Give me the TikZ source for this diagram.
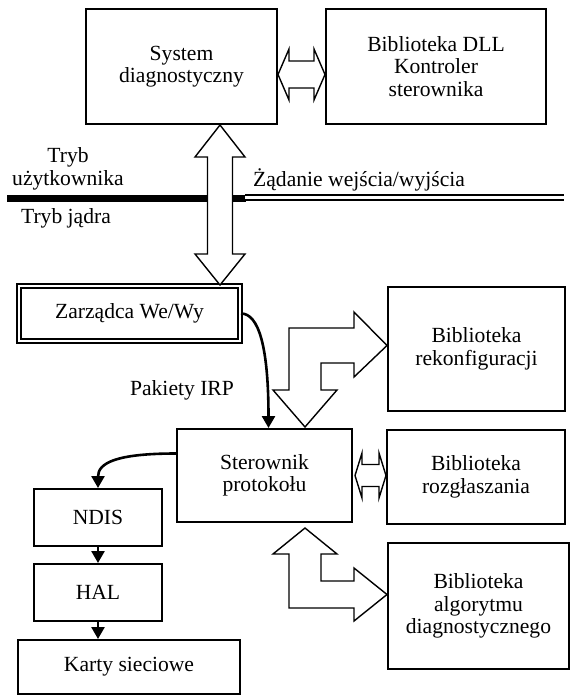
\documentclass[tikz,border=0pt]{standalone}
\usepackage{fontspec}
\setmainfont{Liberation Serif}
\usetikzlibrary{arrows.meta, positioning, calc}

\tikzset{
  box/.style={draw, line width=2pt, rectangle, align=center, inner sep=0pt, font=\fontsize{21.6}{22.5}\selectfont},
  note/.style={inner sep=0pt, align=center, font=\fontsize{21.6}{22.5}\selectfont},
  blockarrow/.style={draw, line width=1.4pt, fill=white},
  flow/.style={->, line width=2.6pt}
}

\begin{document}
\begin{tikzpicture}[x=1pt, y=-1pt, >={Triangle[length=12pt,width=13pt]}]
      \useasboundingbox (0,0) rectangle (571,696);

      % User / kernel mode boundary
      \draw [line width=7pt] (7,198) -- (246,198);
      \draw [line width=2.2pt, double, double distance=2.6pt] (245,197.5) -- (564,197.5);

      % User mode
      \node [box, minimum width=191pt, minimum height=115pt] (sys) at (181.5,66.5) {System\\diagnostyczny};
      \node [box, minimum width=220pt, minimum height=115pt] (dll) at (436,66.5) {Biblioteka DLL\\Kontroler\\sterownika};

      % Kernel mode
      \node [box, double, double distance=2pt, minimum width=221pt, minimum height=55pt] (mgr) at (129.5,313.5) {Zarządca We/Wy};
      \node [box, minimum width=175pt, minimum height=93pt] (drv) at (264.5,475.5) {Sterownik\\protokołu};
      \node [box, minimum width=177pt, minimum height=124pt] (rek) at (476.5,349) {Biblioteka\\rekonfiguracji};
      \node [box, minimum width=178pt, minimum height=94pt] (roz) at (476,477) {Biblioteka\\rozgłaszania};
      \node [box, minimum width=181pt, minimum height=126pt] (alg) at (478.5,606) {Biblioteka\\algorytmu\\diagnostycznego};
      \node [box, minimum width=128pt, minimum height=57pt] (ndis) at (98,517.5) {NDIS};
      \node [box, minimum width=128pt, minimum height=57pt] (hal) at (98,592.5) {HAL};
      \node [box, minimum width=222pt, minimum height=54pt] (karty) at (129,667) {Karty sieciowe};

      % Labels
      \node [note] (user) at (68,169) {Tryb\\użytkownika};
      \node [note] (kernel) at (66,218) {Tryb jądra};
      \node [note, anchor=west] (req) at (253,180) {Żądanie wejścia/wyjścia};
      \node [note] (irp) at (182,390) {Pakiety IRP};

      % Block arrows
      \coordinate (a1) at ($(sys.east)+(0,8)$);
      \draw [blockarrow] (a1) -- ++(11,-25.5) -- ++(0,12) -- ++(25,0) -- ++(0,-12) -- ++(11,25.5)
        -- ++(-11,25.5) -- ++(0,-12) -- ++(-25,0) -- ++(0,12) -- cycle;
      \coordinate (a2) at ($(sys.south)+(38.5,0)$);
      \draw [blockarrow] (a2) -- ++(25,32) -- ++(-12.5,0) -- ++(0,97) -- ++(12.5,0) -- ++(-25,31)
        -- ++(-25,-31) -- ++(12.5,0) -- ++(0,-97) -- ++(-12.5,0) -- cycle;
      \coordinate (a3) at ($(drv.east)+(2,0)$);
      \draw [blockarrow] (a3) -- ++(7,-22.5) -- ++(0,11.5) -- ++(17,0) -- ++(0,-11.5) -- ++(7,22.5)
        -- ++(-7,22.5) -- ++(0,-11.5) -- ++(-17,0) -- ++(0,11.5) -- cycle;
      \coordinate (a4) at ($(drv.north)+(40.5,-1)$);
      \draw [blockarrow] (a4) -- ++(32,-37) -- ++(-16,0) -- ++(0,-27) -- ++(33,0) -- ++(0,14) -- ++(33,-31.5)
        -- ++(-33,-33.5) -- ++(0,16) -- ++(-65,0) -- ++(0,62) -- ++(-16,0) -- cycle;
      \coordinate (a5) at ($(drv.south)+(40.5,5)$);
      \draw [blockarrow] (a5) -- ++(32,26) -- ++(-16,0) -- ++(0,27) -- ++(33,0) -- ++(0,-13) -- ++(33,26.5)
        -- ++(-33,26.5) -- ++(0,-13) -- ++(-65,0) -- ++(0,-54) -- ++(-16,0) -- cycle;

      % Arrows
      \draw [flow] (mgr.east) .. controls +(18,0) and +(0,-80) .. ($(drv.north)+(4,0)$);
      \draw [flow] ($(drv.west)+(0,-22)$) .. controls +(-60,0) and +(0,-25) .. (ndis.north);
      \draw [flow] (ndis.south) -- (hal.north);
      \draw [flow] (hal.south) -- (hal.south |- karty.north);
    \end{tikzpicture}
\end{document}
